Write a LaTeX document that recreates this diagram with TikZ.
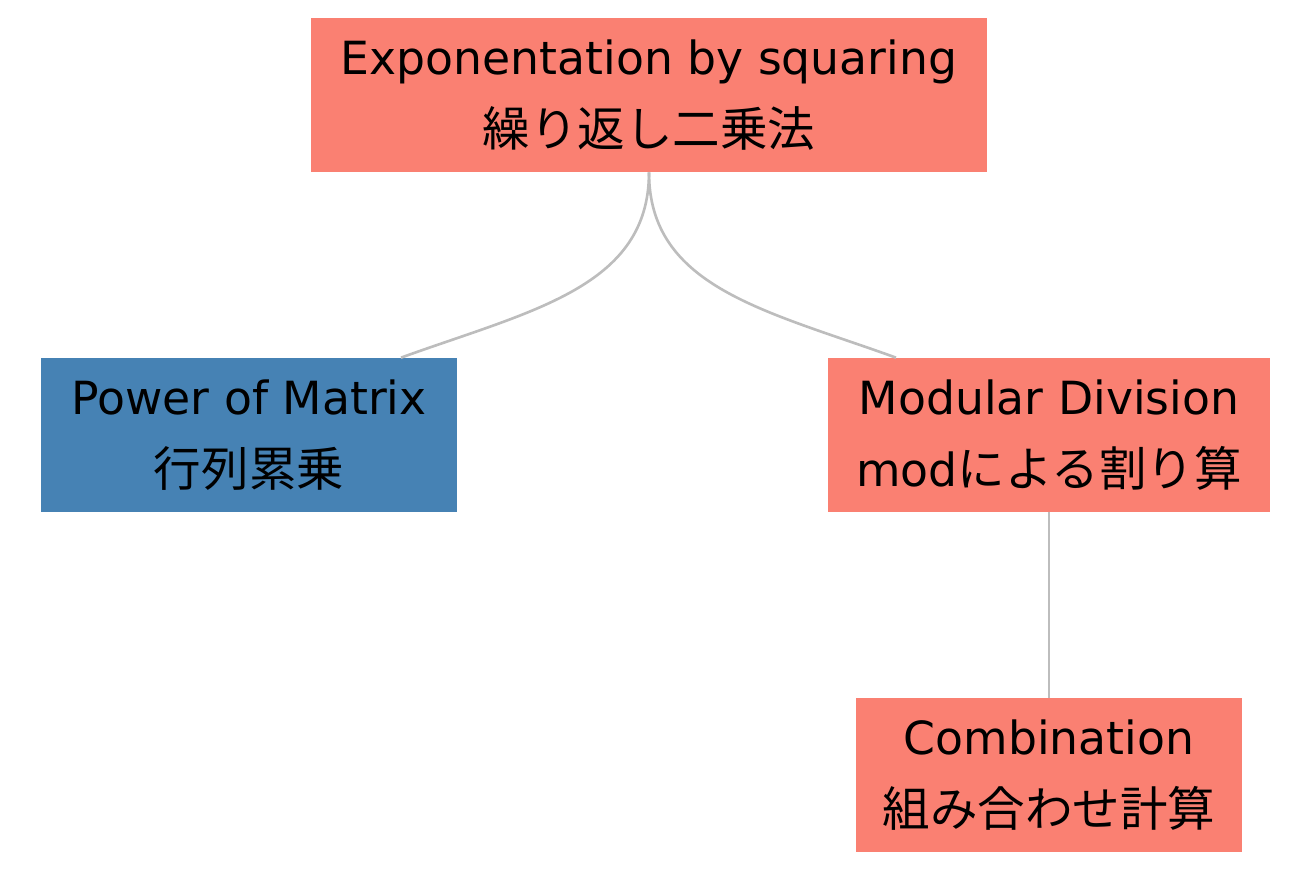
\documentclass[tikz,border=0pt]{standalone}
\usepackage{fontspec}
\setmainfont{DejaVu Sans}
\newfontfamily\cjk[Scale=1.04]{Noto Sans CJK JP}
\usetikzlibrary{calc}
\definecolor{salmon}{HTML}{FA8072}
\definecolor{steel}{HTML}{4682B4}
\definecolor{linkgray}{HTML}{BDBDBD}
\tikzset{
  topic/.style={fill=salmon, text=black, align=center, inner sep=0pt,
    minimum height=3.08cm, font=\fontsize{26}{41}\selectfont},
  done/.style={topic, fill=steel},
  link/.style={draw=linkgray, line width=1.5pt}
}
\begin{document}
\begin{tikzpicture}
  \useasboundingbox (0,0) rectangle (26.04,-17.84);
  % topics
  \node[topic, minimum width=13.52cm] (root) at (12.98,-1.90)
    {Exponentation by squaring\\{\cjk 繰り返し二乗法}};
  \node[done, minimum width=8.32cm] (matrix) at (4.98,-8.70)
    {Power of Matrix\\{\cjk 行列累乗}};
  \node[topic, minimum width=8.84cm] (modular) at (20.98,-8.70)
    {Modular Division\\mod{\cjk による割り算}};
  \node[topic, minimum width=7.72cm] (comb) at (20.98,-15.50)
    {Combination\\{\cjk 組み合わせ計算}};
  % links
  \draw[link] (root.south) .. controls +(0,-2.3) and +(2.6,0.94)
    .. ($(matrix.north)+(3.04,0)$);
  \draw[link] (root.south) .. controls +(0,-2.3) and +(-2.6,0.94)
    .. ($(modular.north)+(-3.06,0)$);
  \draw[link] (modular.south) -- (comb.north);
\end{tikzpicture}
\end{document}
